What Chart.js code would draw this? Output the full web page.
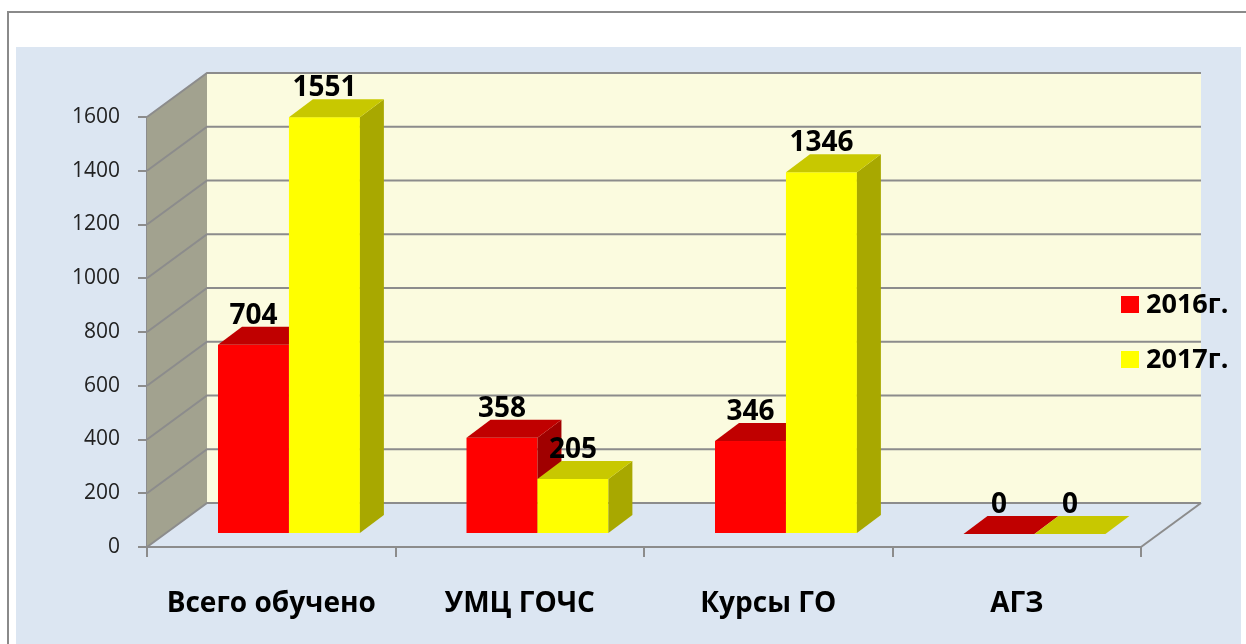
<!DOCTYPE html>
<html>
<head>
<meta charset="utf-8">
<script src="https://cdn.jsdelivr.net/npm/chart.js@4.4.1/dist/chart.umd.min.js"></script>
<style>
  html, body { margin: 0; padding: 0; background: #ffffff; }
  canvas { display: block; }
</style>
</head>
<body>
<canvas id="chart" width="1246" height="644"></canvas>
<script>
(function() {
    const categories = ["Всего обучено", "УМЦ ГОЧС", "Курсы ГО", "АГЗ"];
    const values2016 = [704, 358, 346, 0];
    const values2017 = [1551, 205, 1346, 0];
    const seriesLabels = ["2016г.", "2017г."];

    const FONT = "'Open Sans', 'Noto Sans', sans-serif";
    const GRID = "#8c8c8c";

    // oblique depth of the plot box, and where the bars sit inside it
    const DEPTH_X = 60, DEPTH_Y = -44;
    const BAR_OFF_X = 17.7, BAR_OFF_Y = -13;
    const BAR_DX = 24, BAR_DY = -18;

    const faces = [
        { front: "#ff0000", top: "#c00000", side: "#a00000" },
        { front: "#ffff00", top: "#c8c800", side: "#a8a800" }
    ];

    function poly(ctx, pts, fill) {
        ctx.beginPath();
        ctx.moveTo(pts[0][0], pts[0][1]);
        for (let i = 1; i < pts.length; i++) ctx.lineTo(pts[i][0], pts[i][1]);
        ctx.closePath();
        ctx.fillStyle = fill;
        ctx.fill();
    }

    const scene = {
        id: "scene3d",
        beforeDraw(chart) {
            const ctx = chart.ctx;
            ctx.save();
            ctx.fillStyle = "#ffffff";
            ctx.fillRect(0, 0, chart.width, chart.height);
            ctx.fillStyle = "#dce6f2";
            ctx.fillRect(16, 47, 1225, chart.height - 47);
            ctx.strokeStyle = "#8a8a8a";
            ctx.lineWidth = 2;
            ctx.beginPath();
            ctx.moveTo(8, chart.height);
            ctx.lineTo(8, 12);
            ctx.lineTo(chart.width, 12);
            ctx.stroke();
            ctx.restore();
        },
        beforeDatasetsDraw(chart) {
            const ctx = chart.ctx;
            const area = chart.chartArea;
            const y = chart.scales.y;
            const x0 = area.left, x1 = area.right;
            const yTop = y.getPixelForValue(y.max), yBot = y.getPixelForValue(0);

            ctx.save();
            // back wall
            ctx.fillStyle = "#fbfbdf";
            ctx.fillRect(x0 + DEPTH_X, yTop + DEPTH_Y, x1 - x0, yBot - yTop);
            // side wall
            poly(ctx, [[x0, yBot], [x0 + DEPTH_X, yBot + DEPTH_Y], [x0 + DEPTH_X, yTop + DEPTH_Y], [x0, yTop]], "#a2a28f");

            ctx.strokeStyle = GRID;
            ctx.lineWidth = 2;
            y.ticks.forEach((t) => {
                const py = y.getPixelForValue(t.value);
                ctx.beginPath();
                ctx.moveTo(x0, py);
                ctx.lineTo(x0 + DEPTH_X, py + DEPTH_Y);
                ctx.lineTo(x1 + DEPTH_X, py + DEPTH_Y);
                ctx.stroke();
            });
            // floor right edge
            ctx.beginPath();
            ctx.moveTo(x1, yBot);
            ctx.lineTo(x1 + DEPTH_X, yBot + DEPTH_Y);
            ctx.stroke();

            // bars
            const n = chart.data.labels.length;
            for (let c = 0; c < n; c++) {
                chart.data.datasets.forEach((ds, i) => {
                    const el = chart.getDatasetMeta(i).data[c];
                    const p = el.getProps(["x", "y", "base", "width"], true);
                    const l = p.x - p.width / 2 + BAR_OFF_X, r = p.x + p.width / 2 + BAR_OFF_X;
                    const t = p.y + BAR_OFF_Y, b = p.base + BAR_OFF_Y;
                    const f = faces[i];
                    if (b - t > 0.5) {
                        ctx.fillStyle = f.front;
                        ctx.fillRect(l, t, r - l, b - t);
                        poly(ctx, [[r, b], [r + BAR_DX, b + BAR_DY], [r + BAR_DX, t + BAR_DY], [r, t]], f.side);
                    }
                    poly(ctx, [[l, t], [r, t], [r + BAR_DX, t + BAR_DY], [l + BAR_DX, t + BAR_DY]], f.top);
                });
            }

            // value labels
            ctx.fillStyle = "#000000";
            ctx.font = "bold 28px " + FONT;
            ctx.textAlign = "center";
            ctx.textBaseline = "alphabetic";
            chart.data.datasets.forEach((ds, i) => {
                chart.getDatasetMeta(i).data.forEach((el, c) => {
                    const p = el.getProps(["x", "y"], true);
                    ctx.fillText(String(ds.data[c]), p.x + BAR_OFF_X, p.y + BAR_OFF_Y + BAR_DY - 3);
                });
            });

            // legend
            ctx.textAlign = "left";
            ctx.textBaseline = "middle";
            ctx.font = "bold 27px " + FONT;
            chart.data.datasets.forEach((ds, i) => {
                const ly = 296 + i * 55;
                ctx.fillStyle = ds.backgroundColor;
                ctx.fillRect(1121, ly, 18, 17);
                ctx.fillStyle = "#000000";
                ctx.fillText(ds.label, 1146, ly + 9);
            });
            ctx.restore();
            return false;
        }
    };

    new Chart(document.getElementById("chart"), {
        type: "bar",
        data: {
            labels: categories,
            datasets: [
                { label: seriesLabels[0], data: values2016, backgroundColor: faces[0].front },
                { label: seriesLabels[1], data: values2017, backgroundColor: faces[1].front }
            ]
        },
        options: {
            responsive: false,
            animation: false,
            devicePixelRatio: 1,
            layout: { padding: { top: 117, right: 105, left: 0, bottom: 0 } },
            datasets: { bar: { categoryPercentage: 0.571, barPercentage: 1 } },
            plugins: { legend: { display: false }, tooltip: { enabled: false } },
            scales: {
                x: {
                    afterFit: (scale) => { scale.height = 97; },
                    grid: { drawOnChartArea: false, color: GRID, lineWidth: 2, tickLength: 10 },
                    border: { color: GRID, width: 2 },
                    ticks: { color: "#000000", padding: 30, font: { family: FONT, size: 28, weight: "bold" } }
                },
                y: {
                    min: 0,
                    max: 1600,
                    afterFit: (scale) => { scale.width = 147; },
                    grid: { drawOnChartArea: false, color: GRID, lineWidth: 2, tickLength: 9 },
                    border: { color: GRID, width: 2 },
                    ticks: {
                        stepSize: 200,
                        color: "#222222",
                        padding: 18,
                        font: { family: FONT, size: 21 },
                        callback: (v) => String(v)
                    }
                }
            }
        },
        plugins: [scene]
    });
})();
</script>
</body>
</html>
